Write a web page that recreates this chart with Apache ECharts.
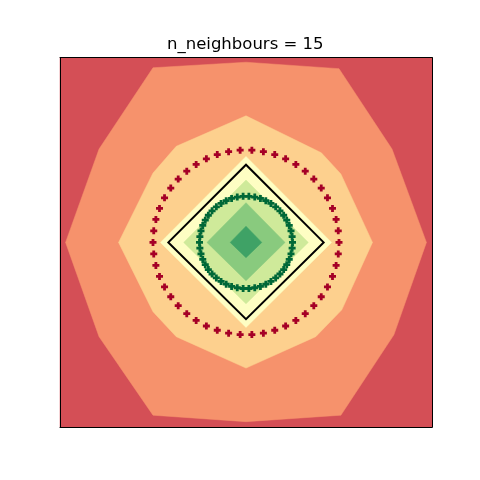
<!DOCTYPE html>
<html>
<head>
<meta charset="utf-8">
<script src="https://cdn.jsdelivr.net/npm/echarts@6/dist/echarts.min.js"></script>
<style>html,body{margin:0;padding:0;background:#fff;}#c{width:480px;height:480px;}</style>
</head>
<body>
<div id="c"></div>
<script>
// ---- data (data units) ----
const titleText = 'n_neighbours = 15';
const axisRange = [-2, 2];

// filled contour regions, outermost first
const regionRed = [[-2,-2],[2,-2],[2,2],[-2,2]];
const regionOrange = [[-1.94,0],[-1.58,1.01],[-1.0,1.89],[0,1.95],[1.0,1.88],[1.57,1.01],[1.94,0],[1.59,-1.0],[1.02,-1.87],[0,-1.94],[-1.0,-1.87],[-1.58,-1.02]];
const regionLightOrange = [[-1.37,0],[-1.0,0.75],[-0.75,1.04],[0,1.37],[0.81,0.97],[1.02,0.74],[1.36,0],[1.03,-0.73],[0.75,-1.02],[0,-1.36],[-0.75,-1.02],[-1.0,-0.75]];
const regionYellow = [[-0.92,0],[0,0.93],[0.92,0],[0,-0.92]];
const regionLightGreen = [[-0.67,0],[0,0.675],[0.67,0],[0,-0.665]];
const regionGreen = [[-0.42,0],[0,0.43],[0.42,0],[0,-0.415]];
const regionDarkGreen = [[-0.17,0],[0,0.175],[0.17,0],[0,-0.165]];
const boundaryDiamond = [[-0.835,0],[0,0.84],[0.835,0],[0,-0.83]];

const redX = [1.000,0.992,0.969,0.930,0.876,0.809,0.729,0.637,0.536,0.426,0.309,0.187,0.063,-0.063,-0.187,-0.309,-0.426,-0.536,-0.637,-0.729,-0.809,-0.876,-0.930,-0.969,-0.992,-1.000,-0.992,-0.969,-0.930,-0.876,-0.809,-0.729,-0.637,-0.536,-0.426,-0.309,-0.187,-0.063,0.063,0.187,0.309,0.426,0.536,0.637,0.729,0.809,0.876,0.930,0.969,0.992];
const redY = [0.000,0.125,0.249,0.368,0.482,0.588,0.685,0.771,0.844,0.905,0.951,0.982,0.998,0.998,0.982,0.951,0.905,0.844,0.771,0.685,0.588,0.482,0.368,0.249,0.125,0.000,-0.125,-0.249,-0.368,-0.482,-0.588,-0.685,-0.771,-0.844,-0.905,-0.951,-0.982,-0.998,-0.998,-0.982,-0.951,-0.905,-0.844,-0.771,-0.685,-0.588,-0.482,-0.368,-0.249,-0.125];
const greenX = [0.500,0.496,0.484,0.465,0.438,0.405,0.365,0.319,0.268,0.213,0.155,0.094,0.031,-0.031,-0.094,-0.155,-0.213,-0.268,-0.319,-0.365,-0.405,-0.438,-0.465,-0.484,-0.496,-0.500,-0.496,-0.484,-0.465,-0.438,-0.405,-0.365,-0.319,-0.268,-0.213,-0.155,-0.094,-0.031,0.031,0.094,0.155,0.213,0.268,0.319,0.365,0.405,0.438,0.465,0.484,0.496];
const greenY = [0.000,0.063,0.124,0.184,0.241,0.294,0.342,0.385,0.422,0.452,0.476,0.491,0.499,0.499,0.491,0.476,0.452,0.422,0.385,0.342,0.294,0.241,0.184,0.124,0.063,0.000,-0.063,-0.124,-0.184,-0.241,-0.294,-0.342,-0.385,-0.422,-0.452,-0.476,-0.491,-0.499,-0.499,-0.491,-0.476,-0.452,-0.422,-0.385,-0.342,-0.294,-0.241,-0.184,-0.124,-0.063];

// ---- styles ----
const regionColors = ['#d44f56','#f6926c','#fdd08e','#fefec3','#cfea9a','#89ca7e','#3fa266'];
const plusPath = 'path://M3,0H7V3H10V7H7V10H3V7H0V3H3Z';

const chart = echarts.init(document.getElementById('c'), null, {renderer:'canvas'});

function polySeries(points, color, z) {
  return {
    type: 'custom', coordinateSystem: 'cartesian2d', z: z, silent: true,
    data: [[0,0]],
    renderItem: function (params, api) {
      return {
        type: 'polygon',
        shape: { points: points.map(p => api.coord(p)) },
        style: { fill: color, stroke: color, lineWidth: 0.5 }
      };
    }
  };
}

const regions = [regionRed, regionOrange, regionLightOrange, regionYellow, regionLightGreen, regionGreen, regionDarkGreen];
const series = regions.map((r, i) => polySeries(r, regionColors[i], 1 + i * 0.01));

series.push({
  type: 'custom', coordinateSystem: 'cartesian2d', z: 2, silent: true,
  data: [[0,0]],
  renderItem: function (params, api) {
    return {
      type: 'polygon',
      shape: { points: boundaryDiamond.map(p => api.coord(p)) },
      style: { fill: 'none', stroke: '#000', lineWidth: 2 }
    };
  }
});

series.push({
  type: 'scatter', z: 3, symbol: plusPath, symbolSize: 7,
  itemStyle: { color: '#a50026', opacity: 1 },
  data: redX.map((x, i) => [x, redY[i]])
});
series.push({
  type: 'scatter', z: 3, symbol: plusPath, symbolSize: 7,
  itemStyle: { color: '#006837', opacity: 1 },
  data: greenX.map((x, i) => [x, greenY[i]])
});

const hiddenAxis = (pos) => ({
  type: 'value', min: axisRange[0], max: axisRange[1], position: pos, z: 10,
  axisLine: { show: true, onZero: false, lineStyle: { color: '#000', width: 1 } },
  axisTick: { show: false }, axisLabel: { show: false }, splitLine: { show: false }
});

chart.setOption({
  animation: false,
  backgroundColor: '#fff',
  title: {
    text: titleText, left: 162, top: 31,
    textStyle: { fontFamily: 'DejaVu Sans', fontSize: 16.5, fontWeight: 'normal', color: '#000' }
  },
  grid: { left: 60, top: 57.6, width: 372, height: 369.6 },
  xAxis: [hiddenAxis('bottom'), hiddenAxis('top')],
  yAxis: [hiddenAxis('left'), hiddenAxis('right')],
  series: series
});
</script>
</body>
</html>
